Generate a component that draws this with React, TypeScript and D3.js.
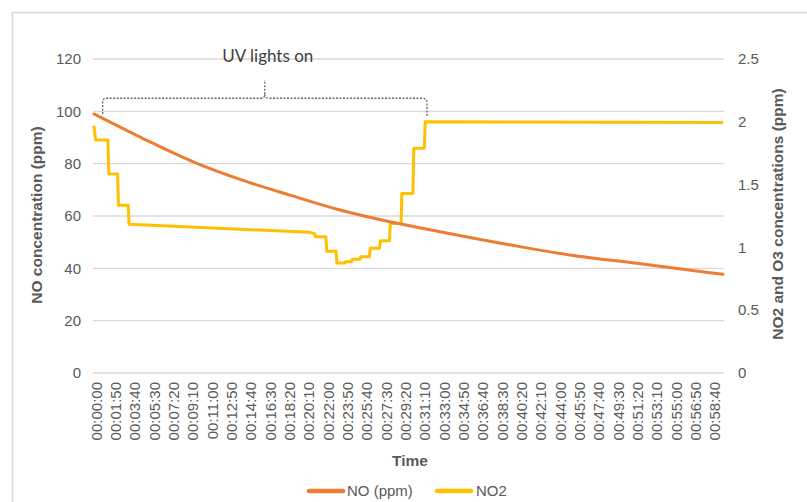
import React from "react";
import * as d3 from "d3";

// time in seconds since start, NO in ppm (left axis)
const noTimes = [0, 280, 565, 840, 1115, 1400, 1684, 1969, 2424, 2708, 3088, 3580];
const noValues = [99.0, 89.6, 80.7, 73.8, 68.0, 62.3, 57.8, 54.0, 48.3, 45.1, 41.9, 37.7];

// NO2 (right axis), stepped readings
const no2Times = [0, 10, 80, 85, 135, 140, 195, 200, 1230, 1255, 1260, 1320, 1325, 1378, 1383, 1428, 1432, 1466, 1470, 1514, 1518, 1568, 1572, 1625, 1630, 1682, 1687, 1748, 1752, 1815, 1820, 1880, 1885, 3580];
const no2Values = [1.97, 1.855, 1.855, 1.585, 1.585, 1.335, 1.335, 1.185, 1.12, 1.11, 1.085, 1.085, 0.97, 0.97, 0.875, 0.875, 0.886, 0.886, 0.905, 0.905, 0.926, 0.926, 0.993, 0.993, 1.053, 1.053, 1.19, 1.19, 1.43, 1.43, 1.79, 1.79, 2.0, 1.995];

const leftTicks = [0, 20, 40, 60, 80, 100, 120];
const rightTicks = [0, 0.5, 1, 1.5, 2, 2.5];
const timeTicks = d3.range(0, 3521, 110);

// UV lamp period (seconds)
const uvOn = 50;
const uvOff = 1895;

const W = 807;
const H = 502;
const txt = "#595959";
const grid = "#D9D9D9";
const font = "'Liberation Sans', Arial, sans-serif";

const fmtTime = (s: number) => {
  const h = Math.floor(s / 3600);
  const m = Math.floor((s % 3600) / 60);
  const sec = s % 60;
  const p = (n: number) => String(n).padStart(2, "0");
  return `${p(h)}:${p(m)}:${p(sec)}`;
};

const App = () => {
  const x = d3.scaleLinear().domain([-5, 3585]).range([93, 724]);
  const yL = d3.scaleLinear().domain([0, 120]).range([373, 59]);
  const yR = d3.scaleLinear().domain([0, 2.5]).range([373, 59]);

  const noLine = d3
    .line<number>()
    .x((_, i) => x(noTimes[i]))
    .y((d) => yL(d))
    .curve(d3.curveMonotoneX);

  const no2Line = d3
    .line<number>()
    .x((_, i) => x(no2Times[i]))
    .y((d) => yR(d));

  // brace over the UV period
  const bx0 = x(uvOn);
  const bx1 = x(uvOff);
  const bm = (bx0 + bx1) / 2;
  const by = yL(105);
  const bTip = yL(112);
  const bFoot = yL(99);
  const r = 4;
  const brace = [
    `M${bx0},${bFoot}`,
    `L${bx0},${by + r}`,
    `Q${bx0},${by} ${bx0 + r},${by}`,
    `L${bm - r},${by}`,
    `Q${bm},${by} ${bm},${by - r}`,
    `L${bm},${bTip}`,
    `M${bm},${by - r}`,
    `Q${bm},${by} ${bm + r},${by}`,
    `L${bx1 - r},${by}`,
    `Q${bx1},${by} ${bx1},${by + r}`,
    `L${bx1},${bFoot + 2}`
  ].join(" ");

  return (
    <svg
      width={W}
      height={H}
      style={{ position: "absolute", left: 0, top: 0, background: "#fff" }}
      fontFamily={font}
    >
      <rect x={12.5} y={12.5} width={900} height={600} fill="none" stroke={grid} strokeWidth={1.5} />

      {/* gridlines */}
      {leftTicks.map((t) => (
        <line key={t} x1={93} x2={724} y1={yL(t)} y2={yL(t)} stroke={grid} strokeWidth={1.3} />
      ))}

      {/* left ticks */}
      {leftTicks.map((t) => (
        <text key={t} x={81} y={yL(t)} dy="0.35em" textAnchor="end" fontSize={15} fill={txt}>
          {t}
        </text>
      ))}

      {/* right ticks */}
      {rightTicks.map((t) => (
        <text key={t} x={738} y={yR(t)} dy="0.35em" textAnchor="start" fontSize={15} fill={txt}>
          {t}
        </text>
      ))}

      {/* time ticks */}
      {timeTicks.map((t) => (
        <text
          key={t}
          transform={`translate(${x(t) + 2.5},382) rotate(-90)`}
          dy="0.35em"
          textAnchor="end"
          fontSize={15}
          fill={txt}
        >
          {fmtTime(t)}
        </text>
      ))}

      {/* axis titles */}
      <text
        transform="translate(37,215) rotate(-90)"
        dy="0.35em"
        textAnchor="middle"
        fontSize={15.5}
        fontWeight="bold"
        fill={txt}
      >
        NO concentration (ppm)
      </text>
      <text
        transform="translate(778,214) rotate(-90)"
        dy="0.35em"
        textAnchor="middle"
        fontSize={15.5}
        fontWeight="bold"
        fill={txt}
      >
        NO2 and O3 concentrations (ppm)
      </text>
      <text x={410} y={461} dy="0.35em" textAnchor="middle" fontSize={15.5} fontWeight="bold" fill={txt}>
        Time
      </text>

      {/* series */}
      <path d={no2Line(no2Values) || ""} fill="none" stroke="#FFC000" strokeWidth={3} strokeLinejoin="round" />
      <path d={noLine(noValues) || ""} fill="none" stroke="#ED7D31" strokeWidth={3} strokeLinecap="round" />

      {/* UV annotation */}
      <path d={brace} fill="none" stroke="#666" strokeWidth={1.3} strokeDasharray="2,1.5" />
      <text x={bm + 3} y={yL(119)} textAnchor="middle" fontSize={17} fontFamily="Lato, sans-serif" fill="#404040">
        UV lights on
      </text>

      {/* legend */}
      <line x1={309} x2={343} y1={491} y2={491} stroke="#ED7D31" strokeWidth={4.5} strokeLinecap="round" />
      <text x={347} y={491} dy="0.35em" fontSize={15} fill={txt}>
        NO (ppm)
      </text>
      <line x1={437} x2={471} y1={491} y2={491} stroke="#FFC000" strokeWidth={4.5} strokeLinecap="round" />
      <text x={476} y={491} dy="0.35em" fontSize={15} fill={txt}>
        NO2
      </text>
    </svg>
  );
};

export default App;
